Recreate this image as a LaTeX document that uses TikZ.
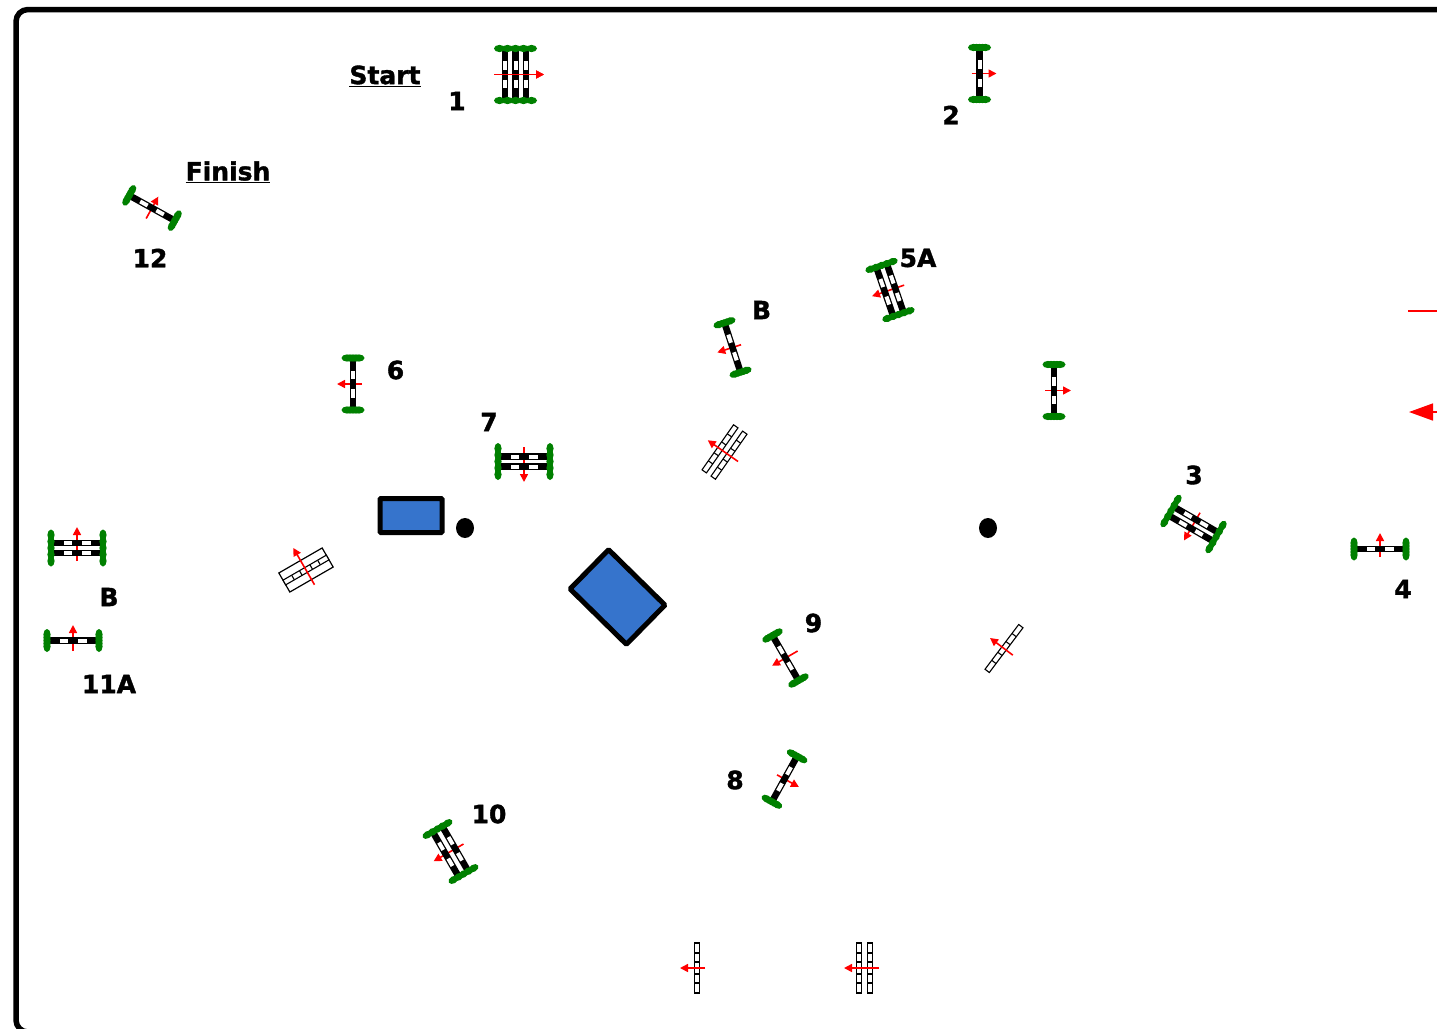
\documentclass[tikz,border=0pt]{standalone}
\usepackage{fontspec}
\setmainfont{DejaVu Sans}[BoldFeatures={FakeBold=1.5}]
\usetikzlibrary{arrows.meta}
\definecolor{pondblue}{RGB}{54, 116, 204}
\definecolor{wingreen}{RGB}{0, 128, 0}

\tikzset{
  polebar/.style={fill=black},
  polegap/.style={fill=white},
  wingblob/.style={fill=wingreen},
  flagline/.style={draw=red, line width=1.6pt, -{Triangle[length=8pt,width=8pt]}},
  bigflag/.style={draw=red, line width=1.6pt, -{Triangle[length=24pt,width=17pt]}},
  emptyrail/.style={draw=black, line width=1.1pt, fill=white},
  pondbox/.style={draw=black, fill=pondblue, line width=5pt, rounded corners=1pt},
  blackdot/.style={fill=black},
  lab/.style={font=\bfseries\fontsize{25}{25}\selectfont, inner sep=0pt},
}

% x, y, angle of travel, rail offsets, wing half width, arrow back, arrow front
\newcommand{\jumpobs}[7]{
  \begin{scope}[shift={(#1,#2)}, rotate=#3]
    \draw[flagline] (#6,0) -- (#7,0);
    \foreach \railoff in {#4} {
      \fill[polebar] (\railoff-3.3,-24.5) rectangle (\railoff+3.3,24.5);
      \fill[polegap] (\railoff-2,-13.5) rectangle (\railoff+2,-5);
      \fill[polegap] (\railoff-2,5) rectangle (\railoff+2,13.5);
    }
    \foreach \wingy in {-26,26} {
      \foreach \blob in {-1,-0.5,0,0.5,1} {
        \fill[wingblob] (\blob*#5,\wingy) ellipse (5.5 and 3.6);
      }
    }
  \end{scope}
}
% x, y, angle of travel, rail offsets, half length, arrow back, arrow front
\newcommand{\planrail}[7]{
  \begin{scope}[shift={(#1,#2)}, rotate=#3]
    \foreach \railoff in {#4} {
      \draw[emptyrail] (\railoff-2.7,-#5) rectangle (\railoff+2.7,#5);
      \foreach \cutpos in {-0.6,-0.24,0.24,0.6} {
        \draw[emptyrail] (\railoff-2.7,\cutpos*#5) -- (\railoff+2.7,\cutpos*#5);
      }
    }
    \draw[flagline] (#6,0) -- (#7,0);
  \end{scope}
}

\begin{document}
\begin{tikzpicture}[x=1pt, y=-1pt]
  \path[use as bounding box, clip] (0,0) rectangle (1437,1028);

  % arena fence
  \draw[line width=5.5pt, rounded corners=12pt] (16,9.5) rectangle (1470,1032);

  % water and markers
  \node[pondbox, minimum width=62pt, minimum height=34pt, inner sep=0pt] (pondleft) at (411,515.5) {};
  \node[pondbox, minimum width=79pt, minimum height=55pt, inner sep=0pt, rotate=-44.5] (pondmid) at (617.5,597) {};
  \fill[blackdot] (465,528) ellipse (9 and 10);
  \fill[blackdot] (988,528) ellipse (9 and 10);

  % jumps
  \jumpobs{515.5}{74.5}{0}{-10.5,0,10.5}{16}{-21.5}{28.5}
  \draw[flagline] (494,74.5) -- (544,74.5);
  \jumpobs{979.5}{73.5}{0}{0}{6}{-8}{17}
  \jumpobs{1054}{390.5}{0}{0}{6}{-9}{17}
  \jumpobs{152}{208}{61}{0}{6}{-12}{13}
  \jumpobs{732.5}{347.5}{198}{0}{6}{-9}{16}
  \jumpobs{890}{290}{199}{-5.5,5.5}{11.5}{-15}{19}
  \jumpobs{353}{384}{180}{0}{6}{-9}{16}
  \jumpobs{524}{461.5}{270}{-5,5}{13}{-14.5}{20.5}
  \jumpobs{1193.5}{524}{240}{-5,5}{13}{-13}{19}
  \jumpobs{1380}{549}{90}{0}{6}{-8}{16}
  \jumpobs{785.5}{658}{210}{0}{6}{-14}{15.5}
  \jumpobs{784.5}{779}{331}{0}{6}{-8.5}{16.5}
  \jumpobs{450.5}{851.5}{210}{-5.5,5.5}{11.5}{-15}{19.5}
  \jumpobs{77}{548}{90}{-5,5}{13}{-13}{21}
  \jumpobs{73}{640.5}{90}{0}{6}{-10.5}{15.5}

  % rails lying flat
  \planrail{724.5}{452}{145}{-5.5,5.5}{27.5}{-16.5}{20.5}
  \planrail{1004}{648.5}{143}{0}{28}{-11}{17.5}
  \planrail{697}{968}{180}{0}{25}{-8}{17}
  \planrail{864.5}{968}{180}{-5.5,5.5}{25}{-14.5}{20.5}
  \begin{scope}[shift={(306,570)}, rotate=120]
    \draw[line width=1.2pt, fill=white] (-11,-25) rectangle (11,25);
  \end{scope}
  \planrail{306}{570}{120}{0}{25}{-17}{25.5}

  % cut off by the right edge
  \coordinate (stubend) at (1450,311);
  \coordinate (stubtip) at (1408,311);
  \draw[draw=red, line width=1.5pt] (stubtip) -- (stubend);
  \coordinate (bigend) at (1450,412);
  \coordinate (bigtip) at (1409,412);
  \draw[bigflag] (bigend) -- (bigtip);

  % labels
  \node[lab] (labstart) at (385,76) {\underline{Start}};
  \node[lab] (labfinish) at (228,172) {\underline{Finish}};
  \node[lab] (labone) at (457,101) {1};
  \node[lab] (labtwo) at (951,115) {2};
  \node[lab] (labtwelve) at (150,258) {12};
  \node[lab] (labfivea) at (918,258) {5A};
  \node[lab] (labbtop) at (761.5,310) {B};
  \node[lab] (labsix) at (395.5,370) {6};
  \node[lab] (labseven) at (489,422) {7};
  \node[lab] (labthree) at (1194,475) {3};
  \node[lab] (labfour) at (1403,589) {4};
  \node[lab] (labbleft) at (109,597) {B};
  \node[lab] (labelevena) at (109,684) {11A};
  \node[lab] (labnine) at (813.5,623) {9};
  \node[lab] (labeight) at (735,780) {8};
  \node[lab] (labten) at (489,814) {10};
\end{tikzpicture}
\end{document}
